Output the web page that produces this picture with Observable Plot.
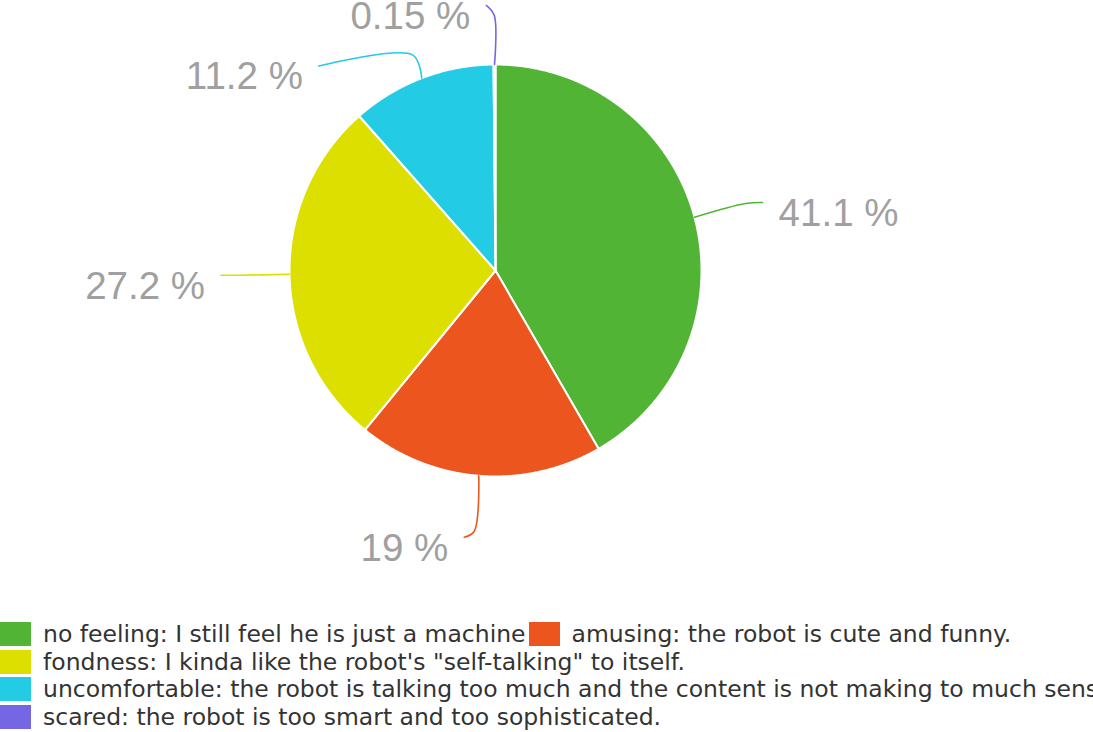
<!DOCTYPE html>
<html><head><meta charset="utf-8">
<script src="https://cdn.jsdelivr.net/npm/d3@7"></script>
<script src="https://cdn.jsdelivr.net/npm/@observablehq/plot@0.6"></script>
<style>
html,body{margin:0;padding:0;background:#fff;overflow:hidden;width:1093px;height:732px}
#chart svg{display:block;overflow:visible}
#legend{display:flex;flex-wrap:wrap;padding-top:10px;font-family:"DejaVu Sans",sans-serif;font-size:23.5px;color:#333;width:1093px}
.item{display:flex;align-items:center;white-space:nowrap;height:27.7px;margin-right:3px}
.sw{width:31px;height:24px;margin-right:12px;flex:none}
</style></head><body><div id="chart"></div><div id="legend"></div>
<script>
// ---- data ----
const categories = [
  "no feeling: I still feel he is just a machine",
  "amusing: the robot is cute and funny.",
  "fondness: I kinda like the robot's \"self-talking\" to itself.",
  "uncomfortable: the robot is talking too much and the content is not making to much sense.",
  "scared: the robot is too smart and too sophisticated."
];
const values = [41.1, 19, 27.2, 11.2, 0.15];
const valueLabels = ["41.1 %", "19 %", "27.2 %", "11.2 %", "0.15 %"];
const colors = ["#52b434", "#ec561e", "#dddf00", "#24cbe5", "#7566e3"];

// ---- layout ----
const W = 1093, H = 610, CX = 495, CY = 270, R = 206;
// leader lines: elbow radius (in pie radii), then end offset in px
const leaderLayout = [
  {r: 1.257, dx: 17, dy: -1, side: 1},
  {r: 1.27, dx: -10, dy: 6, side: -1},
  {r: 1.25, dx: -17, dy: 0, side: -1},
  {r: 1.12, dx: -94, dy: 11, side: -1},
  {r: 1.238, dx: -8, dy: -10, side: -1}
];

const arcs = d3.pie().sort(null).startAngle(0).endAngle(2 * Math.PI)(values);
const slicePts = [];
const leaderPts = [];
const labelData = [];
arcs.forEach((a, i) => {
  const cat = categories[i];
  slicePts.push({cat, x: 0, y: 0});
  const n = Math.max(2, Math.ceil((a.endAngle - a.startAngle) / 0.005));
  for (let k = 0; k <= n; k++) {
    const t = a.startAngle + (a.endAngle - a.startAngle) * k / n;
    slicePts.push({cat, x: Math.sin(t), y: -Math.cos(t)});
  }
  slicePts.push({cat, x: 0, y: 0});
  const mid = (a.startAngle + a.endAngle) / 2;
  const L = leaderLayout[i];
  const s = {x: Math.sin(mid), y: -Math.cos(mid)};
  const e = {x: L.r * Math.sin(mid), y: -L.r * Math.cos(mid)};
  const f = {x: e.x + L.dx / R, y: e.y + L.dy / R};
  leaderPts.push({cat, ...s}, {cat, ...e}, {cat, ...f});
  labelData.push({cat, text: valueLabels[i], side: L.side, x: f.x + L.side * 16 / R, y: f.y + 11 / R});
});

const chart = Plot.plot({
  width: W, height: H,
  margin: 0,
  x: {domain: [-CX / R, (W - CX) / R], range: [0, W], axis: null},
  y: {domain: [-CY / R, (H - CY) / R], range: [0, H], axis: null},
  color: {domain: categories, range: colors},
  style: {background: "white"},
  marks: [
    Plot.line(slicePts, {x: "x", y: "y", z: "cat", fill: "cat", stroke: "white", strokeWidth: 2, strokeLinejoin: "round"}),
    Plot.line(leaderPts, {x: "x", y: "y", z: "cat", stroke: "cat", strokeWidth: 1.6, curve: "catmull-rom"}),
    Plot.text(labelData.filter(d => d.side > 0), {x: "x", y: "y", text: "text", textAnchor: "start", fontSize: 38.5, fill: "#a0a0a0", fontFamily: "'Liberation Sans', Arial, sans-serif"}),
    Plot.text(labelData.filter(d => d.side < 0), {x: "x", y: "y", text: "text", textAnchor: "end", fontSize: 38.5, fill: "#a0a0a0", fontFamily: "'Liberation Sans', Arial, sans-serif"})
  ]
});
document.getElementById("chart").appendChild(chart);

const legend = document.getElementById("legend");
categories.forEach((c, i) => {
  const it = document.createElement("div");
  it.className = "item";
  const sw = document.createElement("span");
  sw.className = "sw";
  sw.style.background = colors[i];
  const tx = document.createElement("span");
  tx.textContent = c;
  it.appendChild(sw); it.appendChild(tx);
  legend.appendChild(it);
});
</script></body></html>
